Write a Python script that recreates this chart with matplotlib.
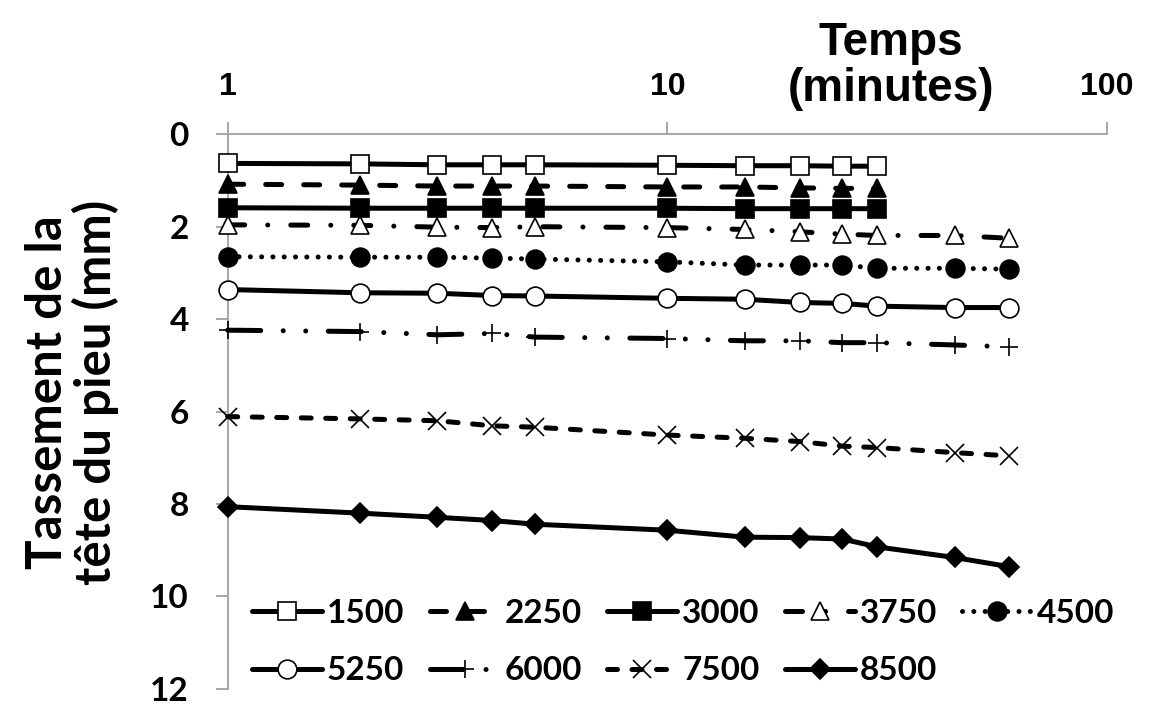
import matplotlib
matplotlib.use('Agg')
import matplotlib.pyplot as plt

# ---- data ----
time_min = [1, 2, 3, 4, 5, 10, 15, 20, 25, 30, 45, 60]
load_labels = ['1500', '2250', '3000', '3750', '4500', '5250', '6000', '7500', '8500']

s1500 = [0.63, 0.64, 0.66, 0.66, 0.66, 0.67, 0.68, 0.68, 0.69, 0.69]
s2250 = [1.08, 1.10, 1.12, 1.12, 1.12, 1.14, 1.14, 1.16, 1.17, 1.17]
s3000 = [1.59, 1.60, 1.60, 1.60, 1.60, 1.60, 1.61, 1.61, 1.61, 1.61]
s3750 = [1.96, 1.97, 2.01, 2.02, 2.00, 2.02, 2.06, 2.11, 2.16, 2.19, 2.19, 2.25]
s4500 = [2.65, 2.66, 2.66, 2.68, 2.70, 2.76, 2.83, 2.83, 2.83, 2.90, 2.90, 2.92]
s5250 = [3.36, 3.43, 3.44, 3.49, 3.50, 3.55, 3.57, 3.64, 3.66, 3.72, 3.75, 3.75]
s6000 = [4.24, 4.27, 4.34, 4.31, 4.39, 4.42, 4.47, 4.47, 4.51, 4.51, 4.56, 4.60]
s7500 = [6.11, 6.16, 6.20, 6.31, 6.34, 6.51, 6.58, 6.65, 6.75, 6.78, 6.89, 6.96]
s8500 = [8.06, 8.20, 8.29, 8.36, 8.44, 8.57, 8.72, 8.73, 8.76, 8.93, 9.16, 9.36]

series = [s1500, s2250, s3000, s3750, s4500, s5250, s6000, s7500, s8500]

x_ticks = [1, 10, 100]
x_ticklabels = ['1', '10', '100']
y_ticks = [0, 2, 4, 6, 8, 10, 12]

# ---- styles ----
LW = 3.6
styles = [
    dict(ls='-', marker='s', mfc='white', ms=13),
    dict(ls=(0, (3.2, 4.4)), marker='^', mfc='black', ms=13),
    dict(ls='-', marker='s', mfc='black', ms=13),
    dict(ls=(0, (3.4, 4.6, 0.01, 4.6)), marker='^', mfc='white', ms=13),
    dict(ls=(0, (0.01, 2.25)), marker='o', mfc='black', ms=13.5),
    dict(ls='-', marker='o', mfc='white', ms=13.5),
    dict(ls=(0, (6.6, 4.5, 0.01, 4.5, 0.01, 4.5)), marker='+', mfc='black', ms=13),
    dict(ls=(0, (2.0, 2.9)), marker='x', mfc='black', ms=13),
    dict(ls='-', marker='D', mfc='black', ms=10),
]

CAL = ['Lato', 'DejaVu Sans']
ARI = ['Liberation Sans', 'DejaVu Sans']

fig = plt.figure(figsize=(11.73, 7.04), dpi=100)
ax = fig.add_axes([227.7 / 1173, 1 - 688.7 / 704, (1107 - 227.7) / 1173, (688.7 - 134.3) / 704])

handles = []
for vals, lab, st in zip(series, load_labels, styles):
    h, = ax.plot(time_min[:len(vals)], vals, color='black', lw=LW,
                 ls=st['ls'], marker=st['marker'], ms=st['ms'],
                 mfc=st['mfc'], mec='black', mew=1.2,
                 dash_capstyle='round', solid_capstyle='round',
                 clip_on=False, zorder=3, label=lab)
    handles.append(h)

ax.set_xscale('log')
ax.set_xlim(1, 100)
ax.set_ylim(12, 0)
ax.xaxis.tick_top()
ax.set_xticks(x_ticks)
ax.set_xticklabels(x_ticklabels, fontfamily=ARI, fontweight='bold', fontsize=23)
ax.xaxis.set_minor_locator(matplotlib.ticker.NullLocator())
ax.set_yticks(y_ticks)
ax.set_yticklabels([str(v) for v in y_ticks], fontfamily=CAL, fontweight='bold', fontsize=24)

gray = '#a0a0a0'
for side in ['bottom', 'right']:
    ax.spines[side].set_visible(False)
for side in ['top', 'left']:
    ax.spines[side].set_color(gray)
    ax.spines[side].set_linewidth(1.3)
ax.tick_params(axis='x', which='major', direction='out', length=9, width=1.3, color=gray, pad=14)
ax.tick_params(axis='y', which='major', direction='out', length=9, width=1.3, color=gray, pad=19)

# x-axis title at top
fig.text(891 / 1173, 1 - 66 / 704, 'Temps\n(minutes)', ha='center', va='center',
         fontfamily=ARI, fontweight='bold', fontsize=33, linespacing=1.08)

# y-axis title
fig.text(72 / 1173, 1 - 392 / 704, 'Tassement de la\ntête du pieu (mm)', ha='center', va='center',
         rotation=90, fontfamily=CAL, fontweight='bold', fontsize=35.5, linespacing=1.03,
         multialignment='center')

# legend (row-major order arranged for matplotlib's column-major filling)
order = [0, 5, 1, 6, 2, 7, 3, 8, 4]
leg = fig.legend([handles[i] for i in order], [load_labels[i] for i in order],
                 ncol=5, loc='upper left', bbox_to_anchor=(252 / 1173, 1 - 599 / 704),
                 frameon=False, borderpad=0, borderaxespad=0,
                 handlelength=2.1, handletextpad=0.15, columnspacing=0.75,
                 labelspacing=0.85,
                 prop={'family': CAL, 'weight': 'bold', 'size': 24})

fig.savefig('out.png', dpi=100, facecolor='white')
